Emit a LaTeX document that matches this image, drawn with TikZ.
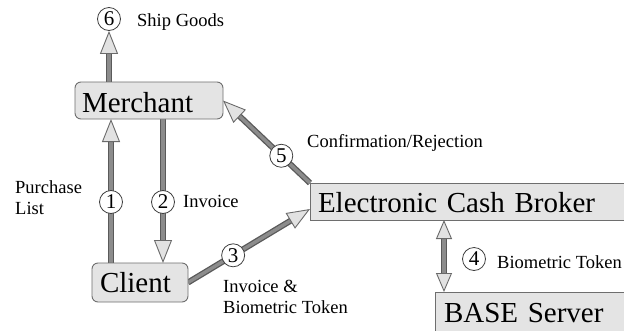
\documentclass[tikz,border=0pt]{standalone}
\usepackage{fontspec}
\setmainfont{Liberation Serif}
\usetikzlibrary{arrows.meta,calc}
\pgfdeclarelayer{bg}
\pgfdeclarelayer{canvas}
\pgfsetlayers{canvas,bg,main}
\definecolor{boxfill}{HTML}{E4E4E4}
\definecolor{boxedge}{HTML}{6E6E6E}
\definecolor{shaftout}{HTML}{5A5A5A}
\definecolor{shaftin}{HTML}{8C8C8C}
\definecolor{tipfill}{HTML}{E2E2E2}
\definecolor{tipedge}{HTML}{6A6A6A}
\definecolor{numedge}{HTML}{404040}
\tikzset{
  box/.style={draw=boxedge, fill=boxfill, line width=0.9pt, anchor=base west, align=left,
    inner ysep=0pt, outer sep=0pt, font=\fontsize{29}{30}\selectfont},
  num/.style={circle, draw=numedge, fill=white, line width=0.8pt, minimum size=23pt,
    inner sep=0pt, font=\fontsize{21}{21}\selectfont},
  lbl/.style={anchor=base west, inner sep=0pt, align=left, font=\fontsize{18.5}{21}\selectfont},
  conn/.style={draw=shaftin, line width=0.9pt,
    -{Triangle[length=23pt, width=18pt, color=tipedge, fill=tipfill]},
    preaction={draw=shaftout, line width=6pt, shorten >=21pt, arrows=-},
    preaction={draw=shaftin, line width=3.4pt, shorten >=21pt, arrows=-}},
  dconn/.style={draw=shaftin, line width=0.9pt,
    {Triangle[length=19pt, width=16pt, color=tipedge, fill=tipfill]}-{Triangle[length=19pt, width=16pt, color=tipedge, fill=tipfill]},
    preaction={draw=shaftout, line width=6pt, shorten >=17pt, shorten <=17pt, arrows=-},
    preaction={draw=shaftin, line width=3.4pt, shorten >=17pt, shorten <=17pt, arrows=-}}
}
\begin{document}
\begin{tikzpicture}[x=1pt,y=-1pt]
\begin{pgfonlayer}{canvas}
\path[fill=white] (0,0) rectangle (624,330);
\end{pgfonlayer}
\path[use as bounding box] (0,0) rectangle (624,330);
\clip (0,0) rectangle (624,330);
% boxes
\node[box, rounded corners=6pt, text width=134pt, inner xsep=7pt, text height=30pt, text depth=7pt] (me) at (75,112) {Merchant};
\node[box, rounded corners=6pt, text width=80pt, inner xsep=8pt, text height=29pt, text depth=10pt] (cl) at (92,292) {Client};
\node[box, text width=330pt, inner xsep=8pt, text height=29pt, text depth=8pt] (ecb) at (310,212) {Electronic Cash Broker};
\node[box, text width=200pt, inner xsep=9pt, text height=30pt, text depth=25pt] (base) at (435,322) {BASE Server};
% numbered circles
\node[num] (c6) at (109,19) {6};
\node[num] (c1) at (111,202) {1};
\node[num] (c2) at (163,202) {2};
\path ($(cl.east)!0.37!([yshift=-7.5pt]ecb.west)$) node[num] (c3) {3};
\node[num] (c4) at (474,259) {4};
\path ($(ecb.north west)!0.33!(me.east)$) node[num] (c5) {5};
% labels
\node[lbl] (l6) at (137,26) {Ship Goods};
\node[lbl] (l5) at (307,147) {Confirmation/Rejection};
\node[lbl] (l1) at (15,214) {Purchase\\List};
\node[lbl] (l2) at (183,207) {Invoice};
\node[lbl] (l3) at (223,313) {Invoice \&\\Biometric Token};
\node[lbl] (l4) at (497,268) {Biometric Token};
% connectors
\begin{pgfonlayer}{bg}
\draw[conn] (c6 |- me.north) -- (c6.south);
\draw[conn] (c1 |- cl.north) -- (c1 |- me.south);
\draw[conn] (c2 |- me.south) -- (c2 |- cl.north);
\draw[conn] (cl.east) -- ([yshift=-7.5pt]ecb.west);
\draw[conn] (ecb.north west) -- (me.east);
\draw[dconn] ([xshift=134pt]ecb.south west) -- ([xshift=9pt]base.north west);
\end{pgfonlayer}
\end{tikzpicture}
\end{document}
